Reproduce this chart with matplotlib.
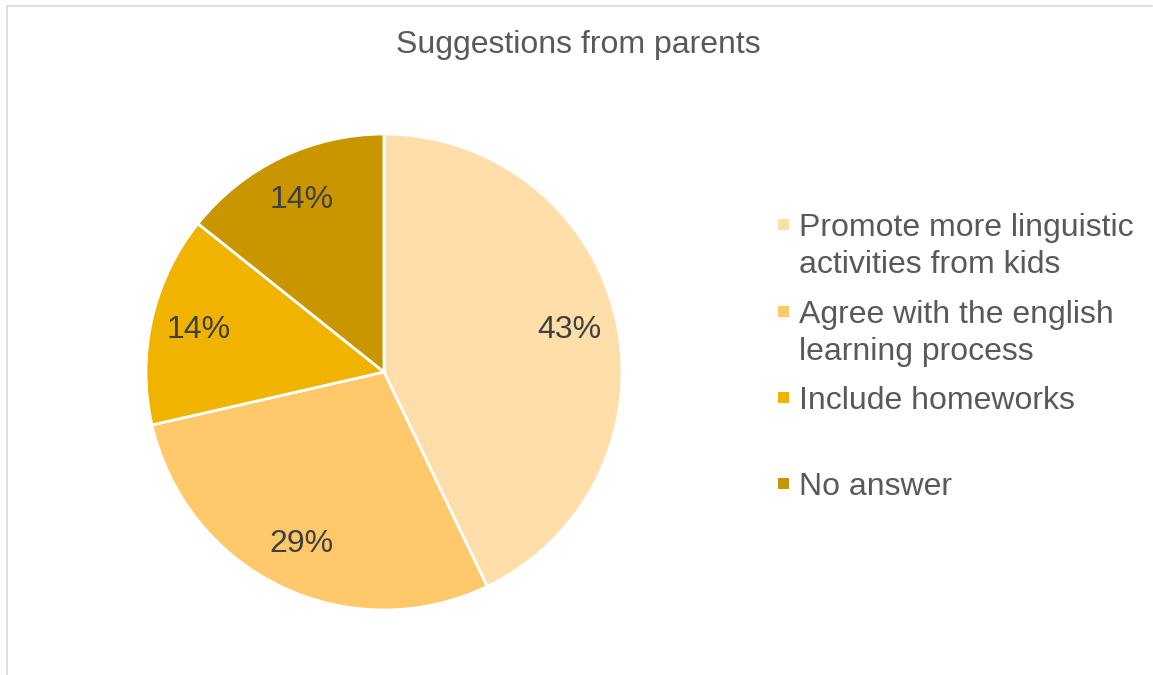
import matplotlib.pyplot as plt
from matplotlib.patches import Rectangle
from matplotlib.lines import Line2D

plt.rcParams['font.family'] = ['Liberation Sans', 'DejaVu Sans']

labels = ["Promote more linguistic\nactivities from kids",
          "Agree with the english\nlearning process",
          "Include homeworks",
          "No answer"]
counts = [3, 2, 1, 1]
colors = ["#FFDEA9", "#FFC96B", "#F0B400", "#C99600"]

W, H = 1153, 675
fig = plt.figure(figsize=(W / 100, H / 100), dpi=100)

# chart-area border (only top and left visible in the crop)
fig.add_artist(Line2D([7 / W, 7 / W], [0, 1 - 6 / H], transform=fig.transFigure,
                      color="#D9D9D9", lw=1.2))
fig.add_artist(Line2D([7 / W, 1152 / W], [1 - 6 / H, 1 - 6 / H], transform=fig.transFigure,
                      color="#D9D9D9", lw=1.2))

cx, cy, r = 384, 372, 238
ax = fig.add_axes([(cx - r) / W, (H - cy - r) / H, 2 * r / W, 2 * r / H])
wedges, texts, autotexts = ax.pie(counts, colors=colors, startangle=90, counterclock=False,
                                  autopct="%1.0f%%", pctdistance=0.8,
                                  wedgeprops=dict(edgecolor="white", linewidth=2))
for t in autotexts:
    t.set_fontsize(23)
    t.set_color("#404040")
ax.set_xlim(-1.0, 1.0)
ax.set_ylim(-1.0, 1.0)
ax.set_aspect("equal")
ax.axis("off")

fig.text(578 / W, 1 - 45 / H, "Suggestions from parents", ha="center", va="center",
         fontsize=23, color="#595959")

# legend: marker + one text per line, 37 px line pitch
baselines = [236, 323, 409, 495]
for lab, col, y in zip(labels, colors, baselines):
    fig.add_artist(Rectangle((778 / W, 1 - (y - 6) / H), 11 / W, 11 / H,
                             transform=fig.transFigure, facecolor=col, edgecolor="none"))
    for i, line in enumerate(lab.split("\n")):
        fig.text(799 / W, 1 - (y + 37 * i) / H, line, ha="left", va="baseline",
                 fontsize=23, color="#595959")

fig.savefig("out.png", dpi=100, facecolor="white")
